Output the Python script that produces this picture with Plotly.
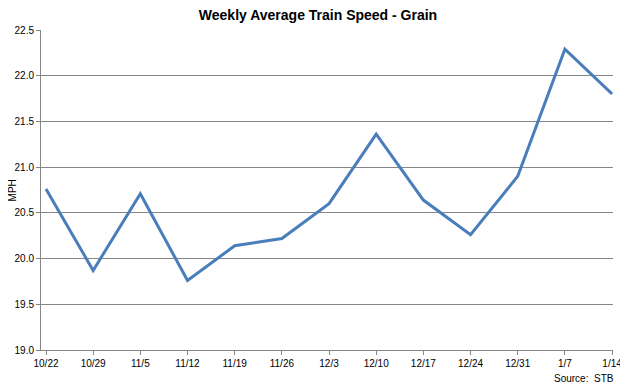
import plotly.graph_objects as go

categories = ["10/22", "10/29", "11/5", "11/12", "11/19", "11/26", "12/3",
              "12/10", "12/17", "12/24", "12/31", "1/7", "1/14"]
speed_mph = [20.76, 19.87, 20.71, 19.76, 20.14, 20.22, 20.60,
             21.36, 20.64, 20.26, 20.90, 22.29, 21.80]
y_ticks = [19.0, 19.5, 20.0, 20.5, 21.0, 21.5, 22.0, 22.5]

font_family = "Liberation Sans Narrow, Liberation Sans, Arial, sans-serif"

fig = go.Figure()
fig.add_trace(go.Scatter(
    x=list(range(len(categories))), y=speed_mph, mode="lines",
    line=dict(color="#4a7ebb", width=3), hoverinfo="skip", showlegend=False))

# page body has an 8px default margin, so the figure is sized to fit inside it
fig.update_layout(
    width=620, height=380,
    margin=dict(l=33, r=15, t=22, b=38),
    paper_bgcolor="white", plot_bgcolor="white",
    title=dict(text="<b>Weekly Average Train Speed - Grain</b>",
               x=0.5, xanchor="center", y=0.981, yanchor="middle",
               font=dict(family="Liberation Sans Narrow, Liberation Sans, Arial", size=14, color="#000")),
    xaxis=dict(tickmode="array", tickvals=list(range(len(categories))), ticktext=categories,
               range=[-0.106, 12.02], showgrid=False, showline=True, linecolor="#868686",
               ticks="outside", ticklen=4, tickcolor="#868686", zeroline=False,
               automargin=False,
               tickfont=dict(family=font_family, size=10, color="#000")),
    yaxis=dict(range=[19.0, 22.5], tickvals=y_ticks,
               ticktext=[f"{v:.1f}" for v in y_ticks],
               showgrid=True, gridcolor="#868686", gridwidth=1,
               showline=True, linecolor="#868686", ticks="outside", ticklen=4,
               tickcolor="#868686", zeroline=False, automargin=False,
               tickfont=dict(family=font_family, size=10, color="#000")),
    annotations=[
        dict(text="Source:  STB", xref="paper", yref="paper",
             x=1.0052, y=-0.0875, xanchor="right", yanchor="middle", showarrow=False,
             font=dict(family=font_family, size=10, color="#000")),
        dict(text="MPH", xref="paper", yref="paper", x=-0.0500, y=0.5,
             xanchor="center", yanchor="middle", textangle=-90, showarrow=False,
             font=dict(family=font_family, size=10, color="#000")),
    ],
)

fig.write_html("out.html")
